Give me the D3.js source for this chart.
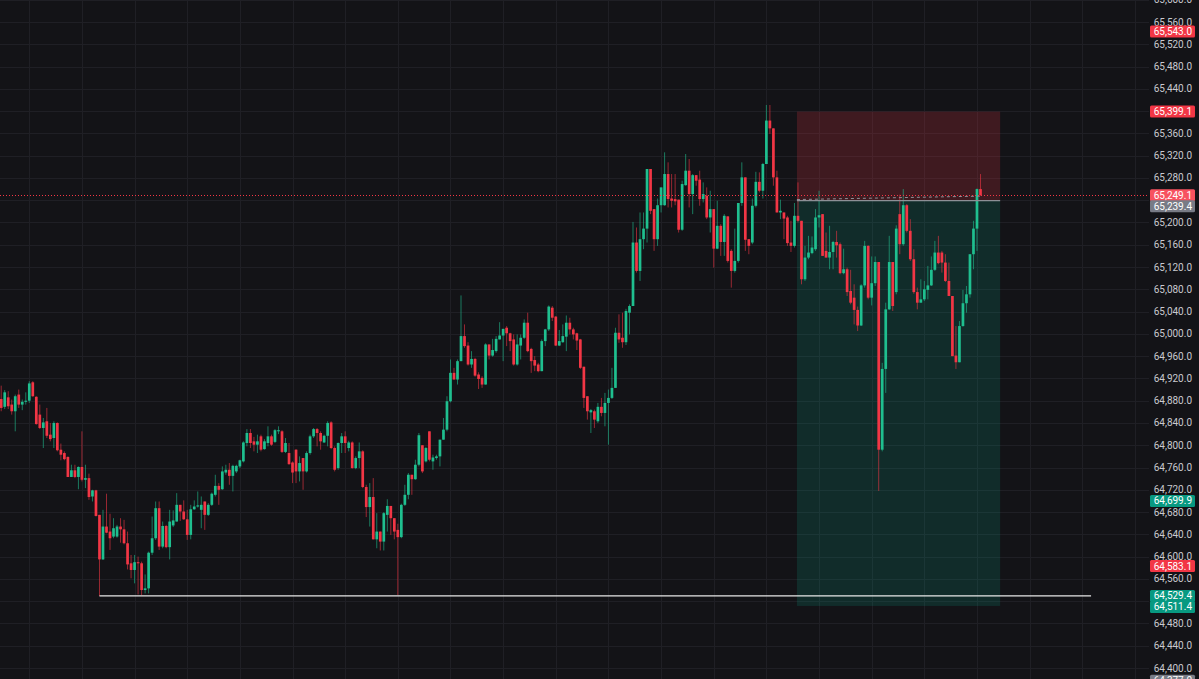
<!DOCTYPE html>
<html>
<head>
<meta charset="utf-8">
<title>Candles</title>
<script src="https://d3js.org/d3.v7.min.js"></script>
<style>
  html, body { margin: 0; padding: 0; background: #131317; overflow: hidden; }
  text { font-family: Roboto, "Noto Sans", sans-serif; }
</style>
</head>
<body>
<div id="chart"></div>
<script>
// candle data, one entry per bar (oldest first)
const opens = [
  64883,64869,64886,64873,64861,64891,64873,64878,64880,64913,
  64887,64855,64831,64843,64819,64813,64840,64792,64786,64779,
  64743,64755,64743,64761,64738,64741,64708,64719,64675,64595,
  64654,64645,64636,64636,64654,64649,64624,64588,64576,64590,
  64588,64540,64543,64607,64633,64687,64618,64655,64617,64656,
  64663,64693,64681,64667,64639,64685,64690,64684,64699,64675,
  64693,64711,64727,64721,64751,64756,64745,64753,64762,64771,
  64804,64822,64807,64801,64816,64793,64804,64816,64806,64825,
  64825,64788,64786,64769,64792,64753,64777,64753,64786,64816,
  64829,64822,64805,64817,64841,64795,64759,64804,64816,64795,
  64805,64759,64777,64789,64725,64689,64707,64631,64645,64627,
  64675,64691,64669,64648,64635,64693,64711,64747,64739,64765,
  64800,64771,64825,64771,64777,64780,64810,64828,64879,64930,
  64918,64951,64996,64979,64945,64955,64927,64921,64909,64981,
  64961,64969,64990,64997,65011,65001,64990,64945,64979,64993,
  65020,64973,64953,64945,64933,64987,65008,65047,65031,64979,
  64985,64995,65020,65008,65001,64990,64941,64888,64859,64861,
  64843,64869,64858,64876,64885,64903,65002,64993,64985,65038,
  65050,65164,65113,65170,65189,65296,65224,65170,65231,65231,
  65287,65243,65242,65241,65187,65267,65293,65251,65285,65277,
  65242,65248,65209,65224,65153,65194,65165,65211,65149,65113,
  65131,65235,65281,65170,65164,65230,65273,65257,65305,65383,
  65369,65281,65218,65218,65209,65164,65158,65212,65203,65098,
  65137,65145,65152,65209,65215,65149,65137,65147,65165,65161,
  65109,65116,65077,65065,65043,65015,65087,65158,65065,65091,
  65129,64792,64937,65044,65129,65075,65215,65161,65231,65185,
  65134,65075,65056,65062,65079,65087,65115,65146,65146,65128,
  65095,65068,64961,64949,65014,65055,65071,65143,65189,65260
];
const highs = [
  64907,64899,64897,64882,64891,64900,64882,64895,64915,64915,
  64888,64873,64849,64867,64840,64843,64841,64803,64789,64780,
  64765,64765,64762,64825,64765,64749,64720,64720,64675,64684,
  64713,64677,64669,64657,64669,64666,64645,64603,64603,64600,
  64591,64568,64609,64672,64699,64699,64663,64657,64684,64683,
  64714,64693,64701,64684,64693,64701,64717,64708,64699,64696,
  64715,64747,64732,64762,64765,64768,64765,64765,64774,64807,
  64829,64829,64815,64819,64819,64811,64834,64819,64829,64834,
  64827,64813,64804,64771,64793,64780,64777,64789,64819,64831,
  64831,64825,64819,64843,64843,64798,64805,64822,64825,64808,
  64807,64780,64805,64791,64729,64732,64741,64678,64645,64680,
  64703,64691,64669,64659,64695,64729,64750,64747,64774,64822,
  64800,64797,64825,64783,64783,64810,64849,64888,64954,64939,
  64954,65069,65017,64985,64969,64957,64931,64924,64983,64981,
  64991,64996,65021,65009,65014,65002,64999,64999,64999,65026,
  65038,64975,64960,64948,64990,65009,65051,65050,65032,65007,
  65017,65033,65029,65011,65002,64991,64941,64888,64865,64864,
  64876,64885,64894,64900,64939,65011,65035,65038,65045,65053,
  65201,65191,65218,65218,65296,65296,65224,65243,65263,65326,
  65308,65287,65287,65241,65275,65323,65314,65287,65285,65293,
  65272,65263,65257,65224,65239,65197,65215,65211,65152,65189,
  65235,65308,65281,65170,65243,65291,65290,65307,65411,65411,
  65369,65293,65241,65218,65212,65203,65235,65272,65203,65158,
  65176,65175,65224,65257,65215,65182,65194,65167,65185,65164,
  65153,65119,65115,65089,65049,65089,65167,65159,65139,65139,
  65129,64948,65056,65176,65129,65195,65250,65260,65233,65206,
  65152,65083,65098,65095,65122,65139,65167,65176,65149,65143,
  65128,65068,65014,65023,65079,65086,65143,65203,65261,65287
];
const lows = [
  64861,64865,64865,64855,64825,64867,64863,64873,64876,64887,
  64837,64829,64795,64813,64807,64795,64789,64773,64773,64743,
  64743,64741,64721,64735,64723,64702,64699,64672,64529,64594,
  64642,64612,64633,64634,64625,64622,64577,64561,64552,64532,
  64531,64534,64534,64603,64630,64612,64615,64615,64595,64653,
  64663,64664,64666,64630,64631,64684,64688,64651,64648,64673,
  64691,64708,64693,64720,64747,64729,64717,64750,64759,64769,
  64798,64795,64789,64786,64789,64792,64798,64799,64804,64820,
  64786,64786,64765,64732,64732,64735,64720,64751,64783,64813,
  64798,64792,64804,64798,64793,64753,64756,64786,64786,64789,
  64758,64757,64759,64723,64671,64654,64631,64615,64611,64611,
  64645,64639,64631,64531,64633,64691,64703,64711,64738,64762,
  64750,64769,64771,64756,64774,64762,64810,64825,64877,64918,
  64909,64951,64975,64943,64939,64923,64901,64903,64909,64954,
  64959,64966,64990,64951,64978,64969,64943,64943,64954,64991,
  64967,64930,64933,64931,64933,64978,65005,65023,64978,64978,
  64984,64969,64999,64990,64971,64937,64867,64846,64822,64831,
  64840,64852,64834,64801,64883,64903,64984,64975,64980,64999,
  65050,65110,65095,65152,65164,65215,65149,65158,65218,65230,
  65227,65227,65231,65182,65185,65266,65227,65215,65266,65230,
  65236,65206,65182,65119,65152,65140,65140,65128,65083,65110,
  65128,65230,65149,65143,65161,65227,65254,65243,65305,65359,
  65266,65218,65206,65170,65158,65147,65155,65200,65089,65095,
  65134,65143,65149,65191,65140,65137,65116,65116,65137,65107,
  65107,65068,65053,65017,65005,65014,65083,65062,65051,65086,
  64718,64789,64894,65043,65041,65071,65143,65158,65182,65131,
  65072,65044,65056,65059,65062,65086,65113,65125,65110,65093,
  65068,64960,64937,64949,65013,65038,65065,65116,65149,65248
];
const closes = [
  64867,64895,64870,64861,64888,64873,64878,64880,64911,64888,
  64838,64831,64841,64817,64811,64840,64791,64783,64775,64743,
  64755,64743,64761,64738,64741,64707,64719,64673,64595,64654,
  64643,64633,64651,64654,64649,64624,64586,64576,64590,64588,
  64540,64543,64607,64633,64687,64618,64655,64617,64663,64665,
  64693,64681,64667,64639,64685,64690,64692,64693,64675,64693,
  64713,64727,64720,64753,64756,64745,64763,64763,64773,64805,
  64822,64804,64801,64807,64792,64807,64816,64801,64827,64827,
  64788,64804,64766,64751,64753,64768,64753,64786,64816,64829,
  64822,64807,64817,64840,64795,64756,64804,64816,64804,64805,
  64759,64777,64789,64725,64689,64707,64631,64645,64627,64678,
  64691,64669,64645,64635,64693,64711,64747,64739,64765,64818,
  64753,64795,64774,64778,64780,64810,64828,64879,64930,64918,
  64951,64996,64978,64945,64955,64925,64919,64909,64981,64961,
  64971,64991,64997,65009,65001,64987,64945,64981,64993,65020,
  64969,64951,64943,64933,64987,65008,65049,65029,64979,64987,
  64996,65020,65008,64999,64988,64939,64885,64861,64863,64846,
  64869,64858,64876,64885,64903,65002,64990,64985,65041,65050,
  65164,65113,65170,65189,65296,65221,65170,65231,65263,65287,
  65242,65239,65238,65187,65269,65293,65251,65285,65275,65242,
  65251,65209,65224,65153,65194,65165,65212,65131,65113,65131,
  65235,65281,65169,65158,65230,65273,65257,65305,65383,65369,
  65281,65218,65221,65207,65163,65158,65212,65203,65098,65137,
  65146,65155,65209,65213,65140,65137,65147,65165,65159,65109,
  65116,65075,65056,65043,65015,65087,65158,65065,65091,65129,
  64792,64937,65044,65129,65050,65189,65161,65231,65185,65134,
  65075,65056,65062,65080,65087,65115,65146,65127,65128,65095,
  65068,64960,64949,65014,65055,65071,65143,65189,65260,65249.1
];

// price axis ticks (every 40)
const priceTicks = [65600,65560,65520,65480,65440,65400,65360,65320,65280,65240,65200,
  65160,65120,65080,65040,65000,64960,64920,64880,64840,64800,64760,64720,64680,
  64640,64600,64560,64520,64480,64440,64400,64360];

// coloured price-scale labels
const labelPrices = [65543.0, 65399.1, 65249.1, 65239.4, 64699.9, 64583.1, 64529.4, 64511.4, 64377.0];
const labelColors = ["#f23645", "#f23645", "#f7525f", "#787b86", "#089981", "#f23645", "#089981", "#089981", "#787b86"];

// long/short position tool (bar positions and prices)
const positionStart = 226.7, positionEnd = 284.6;
const entryPrice = 65239.4, stopPrice = 65399.1, targetPrice = 64511.4;

// horizontal line drawn on the chart
const hLinePrice = 64529.4, hLineStart = 28, hLineEnd = 310.5;

// vertical grid every 15 bars
const timeGrid = d3.range(8, 330, 15);

const W = 1199, H = 679, plotRight = 1149;
const upColor = "#1fbf8f", downColor = "#f23645";

let svg = d3.select("#chart").append("svg")
    .attr("width", W).attr("height", H)
    .style("display", "block")
    .style("background", "#131317");

let x = d3.scaleLinear().domain([0, 279]).range([1.2, 980.5]);
let y = d3.scaleLinear().domain([64400, 65560]).range([668, 22]);

// grid
svg.append("g").selectAll("line")
    .data(priceTicks)
    .join("line")
    .attr("x1", 0).attr("x2", plotRight)
    .attr("y1", d => Math.round(y(d)) + 0.5).attr("y2", d => Math.round(y(d)) + 0.5)
    .attr("stroke", "#1f1f25");
svg.append("g").selectAll("line")
    .data(timeGrid)
    .join("line")
    .attr("x1", d => Math.round(x(d)) + 0.5).attr("x2", d => Math.round(x(d)) + 0.5)
    .attr("y1", 0).attr("y2", H)
    .attr("stroke", "#1f1f25");

// position zones
svg.append("rect")
    .attr("x", x(positionStart)).attr("width", x(positionEnd) - x(positionStart))
    .attr("y", y(stopPrice)).attr("height", y(entryPrice) - y(stopPrice))
    .attr("fill", "rgba(242,54,69,0.2)");
svg.append("rect")
    .attr("x", x(positionStart)).attr("width", x(positionEnd) - x(positionStart))
    .attr("y", y(entryPrice)).attr("height", y(targetPrice) - y(entryPrice))
    .attr("fill", "rgba(8,153,129,0.19)");

// candles
let idx = d3.range(closes.length);
let g = svg.append("g");
g.selectAll(".wick")
    .data(idx)
    .join("line")
    .attr("class", "wick")
    .attr("x1", i => x(i)).attr("x2", i => x(i))
    .attr("y1", i => y(highs[i])).attr("y2", i => y(lows[i]))
    .attr("stroke", i => closes[i] >= opens[i] ? upColor : downColor)
    .attr("stroke-opacity", 0.6)
    .attr("stroke-width", 1);
g.selectAll(".body")
    .data(idx)
    .join("rect")
    .attr("class", "body")
    .attr("x", i => x(i) - 1.35)
    .attr("width", 2.7)
    .attr("y", i => y(Math.max(opens[i], closes[i])))
    .attr("height", i => Math.max(1, Math.abs(y(opens[i]) - y(closes[i]))))
    .attr("fill", i => closes[i] >= opens[i] ? upColor : downColor);

// entry line + dashed line to last close
let lastClose = closes[closes.length - 1];
svg.append("line")
    .attr("x1", x(positionStart)).attr("x2", x(positionEnd))
    .attr("y1", y(entryPrice)).attr("y2", y(entryPrice))
    .attr("stroke", "#8d8f96").attr("stroke-width", 1.2);
svg.append("line")
    .attr("x1", x(positionStart)).attr("x2", x(closes.length - 1))
    .attr("y1", y(entryPrice) - 1).attr("y2", y(lastClose) + 1)
    .attr("stroke", "#8d8f96").attr("stroke-width", 1)
    .attr("stroke-dasharray", "3,3");

// horizontal ray
svg.append("line")
    .attr("x1", x(hLineStart)).attr("x2", x(hLineEnd))
    .attr("y1", y(hLinePrice)).attr("y2", y(hLinePrice))
    .attr("stroke", "#e8e8e8").attr("stroke-width", 1.2);

// current price dotted line
svg.append("line")
    .attr("x1", 0).attr("x2", plotRight)
    .attr("y1", Math.round(y(lastClose)) + 0.5).attr("y2", Math.round(y(lastClose)) + 0.5)
    .attr("stroke", "#f23645").attr("stroke-width", 1)
    .attr("stroke-dasharray", "1,2");

// price scale labels: resolve overlaps of coloured labels
let fmt = d3.format(",.1f");
let labelY = [];
labelPrices.forEach((p, i) => {
    let ly = y(p);
    if (i > 0 && ly - labelY[i - 1] < 11) ly = labelY[i - 1] + 11;
    labelY.push(ly);
});

svg.append("g").selectAll("text")
    .data(priceTicks.filter(t => labelY.every(ly => Math.abs(ly - y(t)) >= 7)))
    .join("text")
    .attr("x", 1192)
    .attr("y", d => y(d))
    .attr("dy", "0.35em")
    .attr("text-anchor", "end")
    .attr("font-size", "10px")
    .attr("fill", "#c9cacf")
    .text(d => fmt(d));

let lab = svg.append("g").selectAll("g")
    .data(labelPrices)
    .join("g");
lab.append("rect")
    .attr("x", 1150).attr("width", 45)
    .attr("y", (d, i) => labelY[i] - 6).attr("height", 12)
    .attr("rx", 1.5)
    .attr("fill", (d, i) => labelColors[i]);
lab.append("text")
    .attr("x", 1192)
    .attr("y", (d, i) => labelY[i])
    .attr("dy", "0.35em")
    .attr("text-anchor", "end")
    .attr("font-size", "10px")
    .attr("fill", "#ffffff")
    .text(d => fmt(d));
</script>
</body>
</html>
